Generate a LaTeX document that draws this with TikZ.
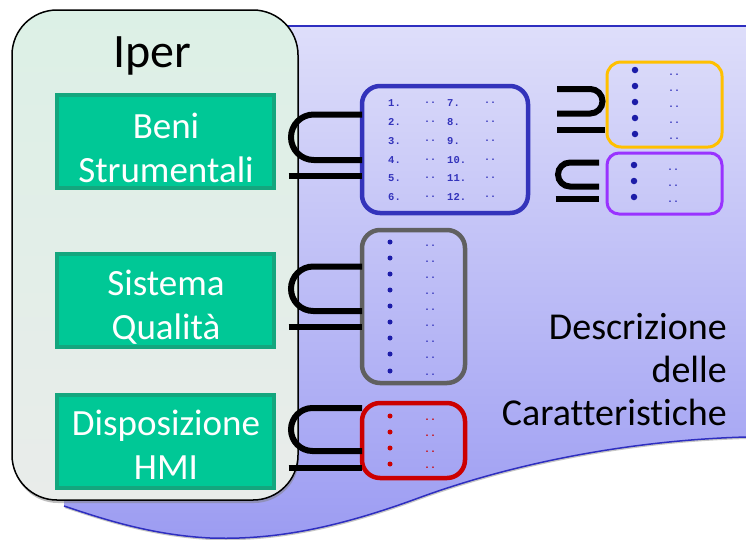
\documentclass[tikz,border=0pt]{standalone}
\usepackage{fontspec}
\setmainfont[Ligatures=NoCommon]{Carlito}
\newfontfamily\listfont{Liberation Mono}
\usetikzlibrary{shadows}
\definecolor{bgtop}{HTML}{DEDEFA}
\definecolor{bgbot}{HTML}{9C9CF2}
\definecolor{bgline}{HTML}{2E2EC0}
\definecolor{ipertop}{HTML}{DCF0E6}
\definecolor{iperbot}{HTML}{E9ECEA}
\definecolor{greenfill}{HTML}{00C896}
\definecolor{greenline}{HTML}{14A67E}
\definecolor{listblue}{HTML}{3333BB}
\definecolor{dotblue}{HTML}{1C1CA8}
\definecolor{boxgray}{HTML}{606060}
\definecolor{boxred}{HTML}{CC0000}
\definecolor{boxorange}{HTML}{FFC000}
\definecolor{boxpurple}{HTML}{9933FF}
\newcommand\SubSym[5]{% xleft xright ytop ybot yline
  \draw[symline,rounded corners=#4/2-#3/2] (#2,#3) -- (#1,#3) -- (#1,#4) -- (#2,#4);
  \draw[symline] (#1-2.5,#5) -- (#2,#5);}
\newcommand\SupSym[5]{% xleft xright ytop ybot yline
  \draw[symline,rounded corners=#4/2-#3/2] (#1,#3) -- (#2,#3) -- (#2,#4) -- (#1,#4);
  \draw[symline] (#1,#5) -- (#2+2.5,#5);}
\tikzset{
  symline/.style={line width=6pt,black},
  greenbox/.style={draw=greenline,line width=4pt,fill=greenfill,
    minimum width=217pt,minimum height=93pt},
  greentext/.style={text=white,align=center,inner sep=0pt,
    font=\fontsize{37}{44}\selectfont},
  listbox/.style={line width=4.5pt,rounded corners=18pt,minimum width=#1},
  bul/.style={circle,fill=#1,inner sep=0pt,minimum size=5pt},
  dd/.style={text=#1,inner sep=0pt,font=\listfont\bfseries\fontsize{10}{10}\selectfont},
  num/.style={text=listblue,inner sep=0pt,anchor=west,font=\listfont\bfseries\fontsize{10.5}{10}\selectfont},
}
\begin{document}
\begin{tikzpicture}[x=1pt,y=-1pt]
\useasboundingbox (0,0) rectangle (746,539);
% background document shape
\path[top color=bgtop,bottom color=bgbot,drop shadow={shadow xshift=0.5pt,shadow yshift=-2pt,opacity=0.45}]
  (64,26) -- (746,26) -- (746,437)
  .. controls (640,440) and (520,460) .. (413,500)
  .. controls (330,530) and (270,540) .. (210,538)
  .. controls (150,535) and (100,518) .. (64,506) -- cycle;
\draw[bgline,line width=2pt] (64,26) -- (746,26);
\draw[bgline,line width=1.5pt] (746,437)
  .. controls (640,440) and (520,460) .. (413,500)
  .. controls (330,530) and (270,540) .. (210,538)
  .. controls (150,535) and (100,518) .. (64,506);
% Iper box
\node[draw=black,line width=1.5pt,rounded corners=45pt,top color=ipertop,bottom color=iperbot,
  minimum width=286pt,minimum height=490pt,
  drop shadow={shadow xshift=1pt,shadow yshift=-3pt,opacity=0.5}] (iper) at (155,255) {};
\node[font=\fontsize{48}{50}\selectfont] (ipertitle) at (152,56) {Iper};
% green boxes
\node[greenbox] (g1) at (165.5,141.5) {};
\node[greenbox] (g2) at (165.5,300) {};
\node[greenbox] (g3) at (165.5,441) {};
\node[greentext] (t1) at (166,148) {Beni\\Strumentali};
\node[greentext] (t2) at (166,307) {Sistema\\Qualità};
\node[greentext] (t3) at (166,445) {Disposizione\\HMI};
% list boxes
\node[draw=listblue,listbox=166pt,minimum height=127pt] (lb) at (445,149.5) {};
\node[draw=boxgray,listbox=103pt,minimum height=153pt] (lg) at (413.5,306.5) {};
\node[draw=boxred,listbox=103pt,minimum height=75pt] (lr) at (413.5,440.5) {};
\node[draw=boxorange,line width=3pt,rounded corners=14pt,minimum width=115pt,minimum height=85pt] (lo) at (664.5,104.5) {};
\node[draw=boxpurple,line width=3pt,rounded corners=12pt,minimum width=115pt,minimum height=61pt] (lp) at (664.5,183.5) {};
% numbered list
\foreach \i/\y in {1/103,2/122,3/141,4/160,5/178,6/197}{
  \node[num] (na\i) at (388,\y) {\i.};
  \node[dd=listblue] (da\i) at (430,\y) {..};
  \pgfmathtruncatemacro\j{\i+6}
  \node[num] (nb\i) at (447,\y) {\j.};
  \node[dd=listblue] (db\i) at (490,\y) {..};
}
% gray list
\foreach \y [count=\k] in {242,258,274,290,306,322,338,354,371}{
  \node[bul=dotblue] (gb\k) at (390,\y) {};
  \node[dd=listblue] (gd\k) at (430,\y+4) {..};
}
% red list
\foreach \y [count=\k] in {416,432,448,464}{
  \node[bul=boxred] (rb\k) at (390,\y) {};
  \node[dd=boxred] (rd\k) at (430,\y+4) {..};
}
% orange list
\foreach \y [count=\k] in {70,86,102,118,134}{
  \node[bul=dotblue,minimum size=6.5pt] (ob\k) at (635,\y) {};
  \node[dd=listblue] (od\k) at (674,\y+5) {..};
}
% purple list
\foreach \y [count=\k] in {165,181,197}{
  \node[bul=dotblue,minimum size=6.5pt] (pb\k) at (634,\y) {};
  \node[dd=listblue] (pd\k) at (673,\y+5) {..};
}
% subset / superset symbols
\SubSym{291}{362}{114.5}{160}{175.5}
\SubSym{291}{362}{266.5}{311}{326.5}
\SubSym{291}{362}{408}{451}{468}
\SupSym{557}{602.5}{89}{113.5}{130}
\SubSym{558}{599}{162.5}{186.5}{198.5}
% caption
\node[anchor=east,align=right,font=\fontsize{38}{43}\selectfont,inner sep=0pt] (desc) at (727,370) {Descrizione\\delle\\Caratteristiche};
\end{tikzpicture}
\end{document}
